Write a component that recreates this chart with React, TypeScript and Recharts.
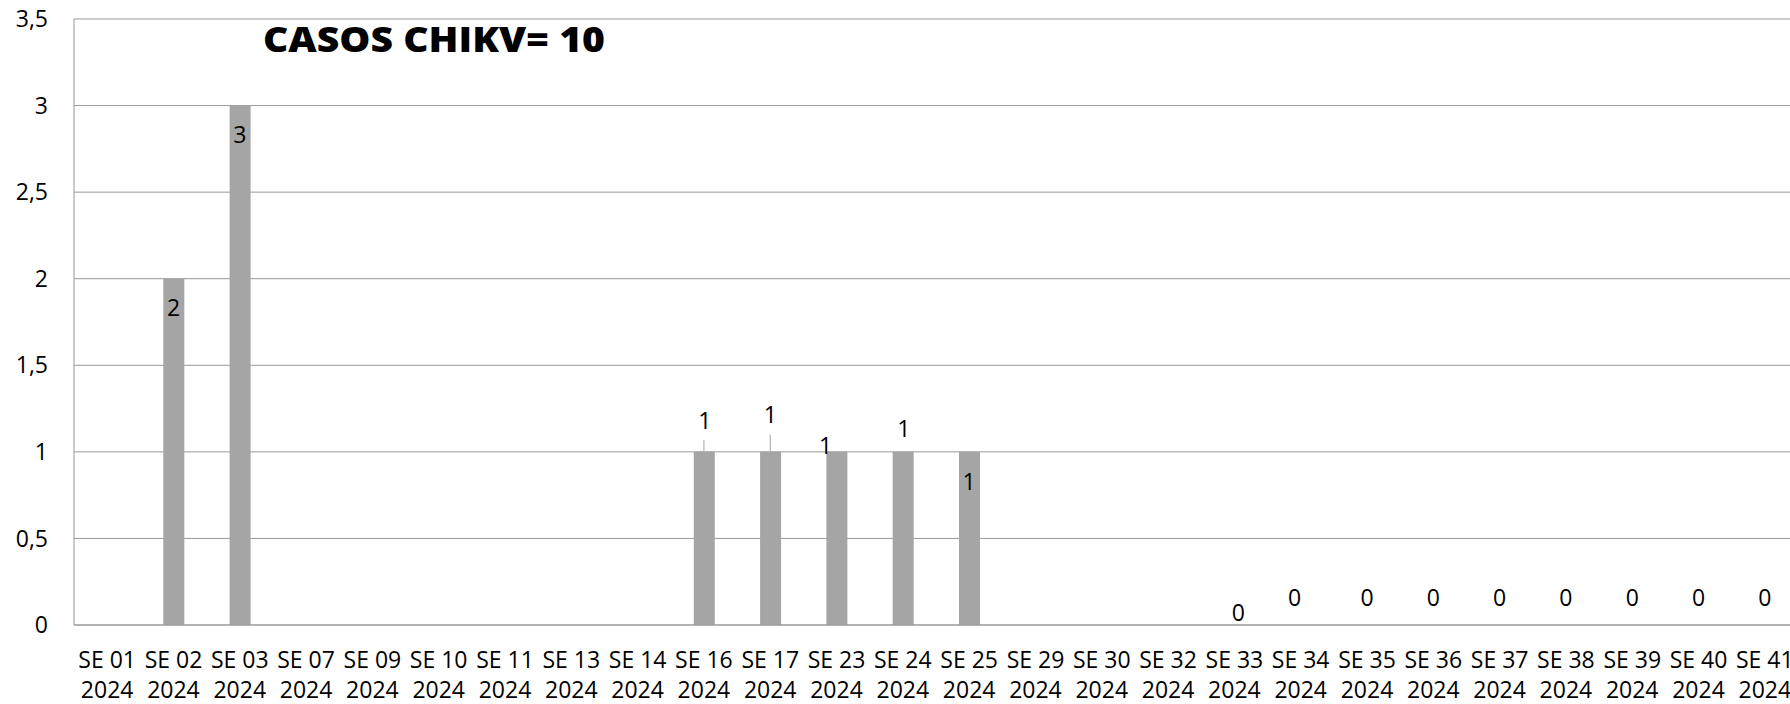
import React from 'react';
import { ComposedChart, Bar, Line, XAxis, YAxis, CartesianGrid, LabelList } from 'recharts';

const categories = [
  'SE 01', 'SE 02', 'SE 03', 'SE 07', 'SE 09', 'SE 10', 'SE 11', 'SE 13', 'SE 14',
  'SE 16', 'SE 17', 'SE 23', 'SE 24', 'SE 25', 'SE 29', 'SE 30', 'SE 32',
  'SE 33', 'SE 34', 'SE 35', 'SE 36', 'SE 37', 'SE 38', 'SE 39', 'SE 40', 'SE 41',
];
const year = '2024';
const cases: (number | null)[] = [
  null, 2, 3, null, null, null, null, null, null,
  1, 1, 1, 1, 1, null, null, null,
  0, 0, 0, 0, 0, 0, 0, 0, 0,
];
const yTicks = [0, 0.5, 1, 1.5, 2, 2.5, 3, 3.5];
const title = 'CASOS CHIKV= 10';

const data = categories.map((c, i) => ({ week: c, casos: cases[i] }));

// label placement (style): offset of label centre from bar top
const labelPlacement: Record<string, { dx: number; dy: number; leader?: number }> = {
  'SE 02': { dx: 0, dy: 29 },
  'SE 03': { dx: 0, dy: 29 },
  'SE 16': { dx: 1, dy: -31, leader: 12 },
  'SE 17': { dx: 0, dy: -37, leader: 17 },
  'SE 23': { dx: -11, dy: -6 },
  'SE 24': { dx: 1, dy: -23 },
  'SE 25': { dx: 0, dy: 30 },
  'SE 33': { dx: 4, dy: -12 },
  'SE 34': { dx: -6, dy: -27 },
};
const defaultPlacement = { dx: 0, dy: -27 };

const FONT = "'Open Sans', sans-serif";
const GRID = '#999999';
const BAR = '#A5A5A5';

const renderLabel = (props: any) => {
  const week = props.value;
  const idx = categories.indexOf(week);
  if (idx < 0) return null;
  const v = cases[idx];
  if (v === null || v === undefined) return null;
  const vb = props.viewBox || {};
  const cx = props.x ?? vb.x;
  const top = props.y ?? vb.y;
  if (cx == null || top == null || isNaN(cx) || isNaN(top)) return null;
  const p = labelPlacement[week] || defaultPlacement;
  const cy = top + p.dy;
  return (
    <g key={`lbl-${week}`}>
      {p.leader ? (
        <line x1={cx} x2={cx} y1={top - p.leader} y2={top} stroke="#A6A6A6" strokeWidth={1} />
      ) : null}
      <text
        x={cx + p.dx}
        y={cy + 8}
        textAnchor="middle"
        fontFamily={FONT}
        fontSize={23}
        fill="#000"
      >
        {v}
      </text>
    </g>
  );
};

const XTick = (props: any) => {
  const { x, y, payload } = props;
  return (
    <g>
      <text x={x} y={y + 43} textAnchor="middle" fontFamily={FONT} fontSize={23} fill="#000">
        {payload.value}
      </text>
      <text x={x} y={y + 73} textAnchor="middle" fontFamily={FONT} fontSize={23} fill="#000">
        {year}
      </text>
    </g>
  );
};

export default function App() {
  return (
    <div
      style={{
        position: 'absolute',
        left: 0,
        top: 0,
        width: 1790,
        height: 704,
        overflow: 'hidden',
        background: '#fff',
      }}
    >
      <ComposedChart
        width={1800}
        height={704}
        data={data}
        margin={{ top: 19, right: 2, bottom: 0, left: 0 }}
      >
        <CartesianGrid horizontal vertical={false} stroke={GRID} strokeWidth={1} />
        <XAxis
          dataKey="week"
          height={79}
          interval={0}
          tickLine={false}
          tickSize={0}
          tickMargin={0}
          axisLine={{ stroke: GRID, strokeWidth: 1 }}
          tick={<XTick />}
        />
        <YAxis
          width={74}
          domain={[0, 3.5]}
          ticks={yTicks}
          interval={0}
          tickLine={false}
          tickSize={0}
          tickMargin={26}
          axisLine={{ stroke: GRID, strokeWidth: 1 }}
          tickFormatter={(v: number) => String(v).replace('.', ',')}
          tick={{ fontFamily: FONT, fontSize: 23, fill: '#000' }}
        />
        <Bar dataKey="casos" fill={BAR} barSize={21} isAnimationActive={false} />
        <Line
          dataKey="casos"
          stroke="none"
          dot={false}
          activeDot={false}
          connectNulls={false}
          isAnimationActive={false}
        >
          <LabelList dataKey="week" content={renderLabel} />
        </Line>
      </ComposedChart>
      <svg
        width={1790}
        height={704}
        style={{ position: 'absolute', left: 0, top: 0, pointerEvents: 'none' }}
      >
        <text
          x={263}
          y={52}
          fontFamily={FONT}
          fontWeight={800}
          fontSize={35}
          textLength={342}
          lengthAdjust="spacingAndGlyphs"
          fill="#000"
        >
          {title}
        </text>
      </svg>
    </div>
  );
}
